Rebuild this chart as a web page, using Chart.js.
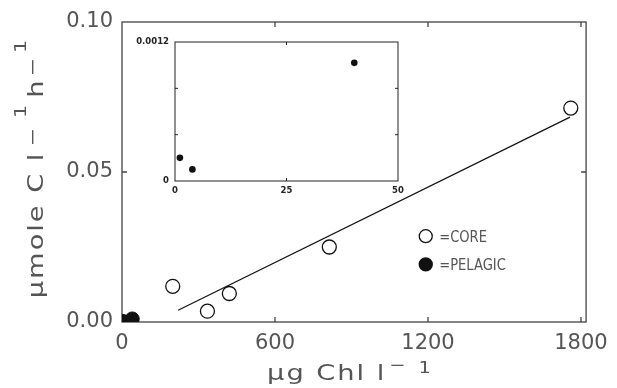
<!DOCTYPE html>
<html>
<head>
<meta charset="utf-8">
<script src="https://cdn.jsdelivr.net/npm/chart.js@4/dist/chart.umd.min.js"></script>
<style>
	html, body { margin: 0; padding: 0; background: #fff; }
	#wrap { position: relative; width: 617px; height: 388px; }
	canvas { position: absolute; left: 0; top: 0; }
</style>
</head>
<body>
<div id="wrap">
	<canvas id="main" width="617" height="388"></canvas>
	<canvas id="inset" width="617" height="388"></canvas>
</div>
<script>
// values
var coreX = [199, 335, 421, 813, 1760];
var coreY = [0.0119, 0.0036, 0.0095, 0.0250, 0.0713];
var pelagicX = [1.1, 3.9, 40.2];
var pelagicY = [0.00020, 0.00010, 0.00102];
var fitX = [220, 1757];
var fitY = [0.0039, 0.0683];

var xTicks = [0, 600, 1200, 1800];
var yTicks = [0, 0.05, 0.10];
var insetXTicks = [0, 25, 50];
var insetYTicks = [0, 0.0004, 0.0008, 0.0012];
var insetYLabels = ["0", "", "", "0.0012"];
var legendLabels = ["=CORE", "=PELAGIC"];

function pts(xs, ys) {
	return xs.map(function (v, i) { return { x: v, y: ys[i] }; });
}

// frame round the plot area with inward tick marks on all four sides
var frame = {
	id: "frame",
	beforeDraw: function (chart, args, opts) {
		if (!opts.fill) return;
		var a = chart.chartArea;
		chart.ctx.save();
		chart.ctx.fillStyle = opts.fill;
		chart.ctx.fillRect(a.left, a.top, a.width, a.height);
		chart.ctx.restore();
	},
	beforeDatasetsDraw: function (chart, args, opts) {
		var ctx = chart.ctx, a = chart.chartArea;
		var x = chart.scales.x, y = chart.scales.y;
		var L = opts.len;
		ctx.save();
		ctx.strokeStyle = opts.color;
		ctx.lineWidth = opts.width;
		ctx.strokeRect(a.left, a.top, a.width, a.height);
		ctx.beginPath();
		x.ticks.forEach(function (t) {
			var px = x.getPixelForValue(t.value);
			if (px - a.left < 3 || a.right - px < 3) return;
			ctx.moveTo(px, a.bottom); ctx.lineTo(px, a.bottom - L);
			ctx.moveTo(px, a.top); ctx.lineTo(px, a.top + L);
		});
		y.ticks.forEach(function (t) {
			var py = y.getPixelForValue(t.value);
			if (py - a.top < 3 || a.bottom - py < 3) return;
			ctx.moveTo(a.left, py); ctx.lineTo(a.left + L, py);
			ctx.moveTo(a.right, py); ctx.lineTo(a.right - L, py);
		});
		ctx.stroke();
		ctx.restore();
	}
};

// text in pieces (for raised exponents), drawn a bit wide like the original lettering
function drawRich(ctx, parts, cx, cy, angle, stretch) {
	ctx.save();
	ctx.translate(cx, cy);
	ctx.rotate(angle);
	ctx.textBaseline = "alphabetic";
	var total = 0;
	parts.forEach(function (p) {
		ctx.font = p.size + "px 'DejaVu Sans'";
		ctx.letterSpacing = (p.sp || 0) + "px";
		p.w = ctx.measureText(p.text).width * stretch;
		total += p.w + (p.gap || 0);
	});
	var x = -total / 2;
	parts.forEach(function (p) {
		ctx.font = p.size + "px 'DejaVu Sans'";
		ctx.letterSpacing = (p.sp || 0) + "px";
		x += p.gap || 0;
		ctx.save();
		ctx.translate(x, -(p.dy || 0));
		ctx.scale(stretch, 1);
		ctx.fillText(p.text, 0, 0);
		ctx.restore();
		x += p.w;
	});
	ctx.restore();
}

// axis titles with raised exponents, plus the in-plot key
var annotate = {
	id: "annotate",
	afterDraw: function (chart) {
		var ctx = chart.ctx, a = chart.chartArea;
		ctx.save();
		ctx.fillStyle = "#555";
		drawRich(ctx, [
			{ text: "\u03bcg Chl l", size: 21, sp: 1.5 },
			{ text: "\u2212", size: 15, gap: 3, dy: 10 },
			{ text: "1", size: 15, gap: 13, dy: 7 }
		], a.left + a.width / 2 - 5, a.bottom + 58, 0, 1.3);
		drawRich(ctx, [
			{ text: "\u03bcmole C l", size: 21, sp: 1.5 },
			{ text: "\u2212", size: 17, gap: 5, dy: 5 },
			{ text: "1", size: 16, gap: 10, dy: 17 },
			{ text: "h", size: 21, gap: 7 },
			{ text: "\u2212", size: 17, gap: 4, dy: 5 },
			{ text: "1", size: 16, gap: 5, dy: 17 }
		], a.left - 79, a.top + a.height / 2 - 3, -Math.PI / 2, 1.3);

		var mx = a.left + 0.6545 * a.width;
		var rows = [a.top + 0.714 * a.height, a.top + 0.808 * a.height];
		legendLabels.forEach(function (lab, i) {
			ctx.beginPath();
			ctx.arc(mx, rows[i], 6.5, 0, Math.PI * 2);
			ctx.fillStyle = i === 0 ? "#fff" : "#111";
			ctx.fill();
			ctx.lineWidth = 1.3;
			ctx.strokeStyle = "#111";
			ctx.stroke();
			ctx.save();
			ctx.translate(mx + 13.4, rows[i] + 5.8);
			ctx.scale(0.82, 1);
			ctx.font = "16px 'DejaVu Sans'";
			ctx.fillStyle = "#555";
			ctx.fillText(lab, 0, 0);
			ctx.restore();
		});
		ctx.restore();
	}
};

var tickFont = { family: "DejaVu Sans", size: 21 };

var mainChart = new Chart(document.getElementById("main"), {
	type: "scatter",
	data: {
		datasets: [
			{
				type: "line",
				label: "fit",
				data: pts(fitX, fitY),
				borderColor: "#111",
				borderWidth: 1.2,
				pointRadius: 0,
				fill: false
			},
			{
				label: "CORE",
				data: pts(coreX, coreY),
				pointRadius: 7,
				borderWidth: 1.3,
				borderColor: "#111",
				backgroundColor: "#fff"
			},
			{
				label: "PELAGIC",
				data: pts(pelagicX, pelagicY),
				pointRadius: 7,
				borderWidth: 1,
				borderColor: "#111",
				backgroundColor: "#111"
			}
		]
	},
	options: {
		responsive: false,
		animation: false,
		layout: { padding: { top: 22, right: 27, left: 0, bottom: 0 } },
		plugins: {
			legend: { display: false },
			tooltip: { enabled: false },
			frame: { color: "#444", width: 1.3, len: 5 }
		},
		scales: {
			x: {
				type: "linear", min: 0, max: 1820,
				grid: { display: false, drawTicks: false },
				border: { display: false },
				ticks: {
					padding: 9, color: "#555", font: tickFont, autoSkip: false, maxRotation: 0,
					callback: function (v) { return String(v); }
				},
				afterBuildTicks: function (s) { s.ticks = xTicks.map(function (v) { return { value: v }; }); },
				afterFit: function (s) { s.height = 66; }
			},
			y: {
				min: 0, max: 0.10,
				grid: { display: false, drawTicks: false },
				border: { display: false },
				ticks: {
					padding: 9, color: "#555", font: tickFont, autoSkip: false,
					callback: function (v) { return v.toFixed(2); }
				},
				afterBuildTicks: function (s) { s.ticks = yTicks.map(function (v) { return { value: v }; }); },
				afterFit: function (s) { s.width = 122; }
			}
		}
	},
	plugins: [frame, annotate]
});

var insetFont = { family: "DejaVu Sans", size: 8.5, weight: "bold" };

var insetChart = new Chart(document.getElementById("inset"), {
	type: "scatter",
	data: {
		datasets: [
			{
				label: "PELAGIC",
				data: pts(pelagicX, pelagicY),
				pointRadius: 3.3,
				borderWidth: 0,
				backgroundColor: "#111"
			}
		]
	},
	options: {
		responsive: false,
		animation: false,
		layout: { padding: { top: 42, right: 219, left: 0, bottom: 0 } },
		plugins: {
			legend: { display: false },
			tooltip: { enabled: false },
			frame: { color: "#222", width: 1, len: 3, fill: "#fff" }
		},
		scales: {
			x: {
				type: "linear", min: 0, max: 50,
				grid: { display: false, drawTicks: false },
				border: { display: false },
				ticks: {
					padding: 5, color: "#222", font: insetFont, autoSkip: false, maxRotation: 0,
					callback: function (v) { return String(v); }
				},
				afterBuildTicks: function (s) { s.ticks = insetXTicks.map(function (v) { return { value: v }; }); },
				afterFit: function (s) { s.height = 207; }
			},
			y: {
				min: 0, max: 0.0012,
				grid: { display: false, drawTicks: false },
				border: { display: false },
				ticks: {
					padding: 6, color: "#222", font: insetFont, autoSkip: false,
					callback: function (v, i) { return insetYLabels[i]; }
				},
				afterBuildTicks: function (s) { s.ticks = insetYTicks.map(function (v) { return { value: v }; }); },
				afterFit: function (s) { s.width = 175; }
			}
		}
	},
	plugins: [frame]
});
</script>
</body>
</html>
